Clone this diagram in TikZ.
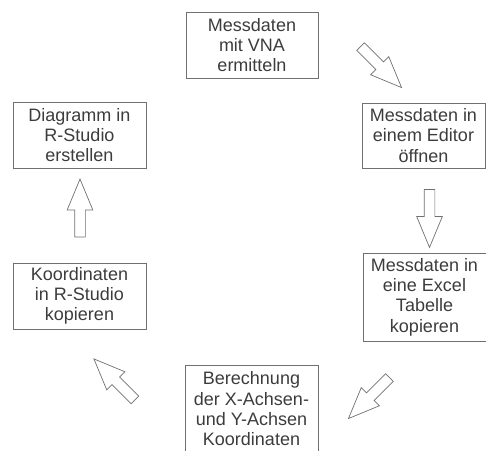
\documentclass[tikz,border=0pt]{standalone}
\usepackage{fontspec}
\setmainfont{Liberation Sans}
\usetikzlibrary{shapes.arrows}
\definecolor{linegray}{HTML}{707070}
\definecolor{textgray}{HTML}{3C3C3C}

\begin{document}
\begin{tikzpicture}[
    x=1pt,y=1pt,
    stepbox/.style={draw=linegray,line width=0.8pt,text=textgray,align=center,inner sep=0pt,
      font=\fontsize{18}{20.3}\selectfont},
    flowarrow/.style={single arrow,draw=linegray,fill=white,line width=0.7pt,
      inner xsep=0pt,inner ysep=5pt,minimum height=58pt,
      single arrow head extend=7.5pt,single arrow tip angle=45}
    ]
    \useasboundingbox (0,0) rectangle (486,450);

    \node (vna) [stepbox,minimum width=132pt,minimum height=66pt] at (252,405) {Messdaten\\mit VNA\\ermitteln};
    \node (editor) [stepbox,minimum width=123pt,minimum height=65pt] at (423.5,314.5) {Messdaten in\\einem Editor\\öffnen};
    \node (excel) [stepbox,minimum width=123pt,minimum height=88pt] at (424.5,153) {Messdaten in\\eine Excel\\Tabelle\\kopieren};
    \node (calc) [stepbox,minimum width=133pt,minimum height=88pt] at (251.5,41) {Berechnung\\der X-Achsen-\\und Y-Achsen\\Koordinaten};
    \node (copy) [stepbox,minimum width=133pt,minimum height=66pt] at (79.5,154) {Koordinaten\\in R-Studio\\kopieren};
    \node (plot) [stepbox,minimum width=133pt,minimum height=66pt] at (79.5,315) {Diagramm in\\R-Studio\\erstellen};

    % block arrows between the steps
    \node (a1) [flowarrow,rotate=-45] at (376.5,387.5) {};
    \node (a2) [flowarrow,rotate=-90] at (429.5,238) {};
    \node (a3) [flowarrow,rotate=-135] at (373.5,56.5) {};
    \node (a4) [flowarrow,rotate=135] at (119,66) {};
    \node (a5) [flowarrow,rotate=90] at (80,235.5) {};

  \end{tikzpicture}
\end{document}
